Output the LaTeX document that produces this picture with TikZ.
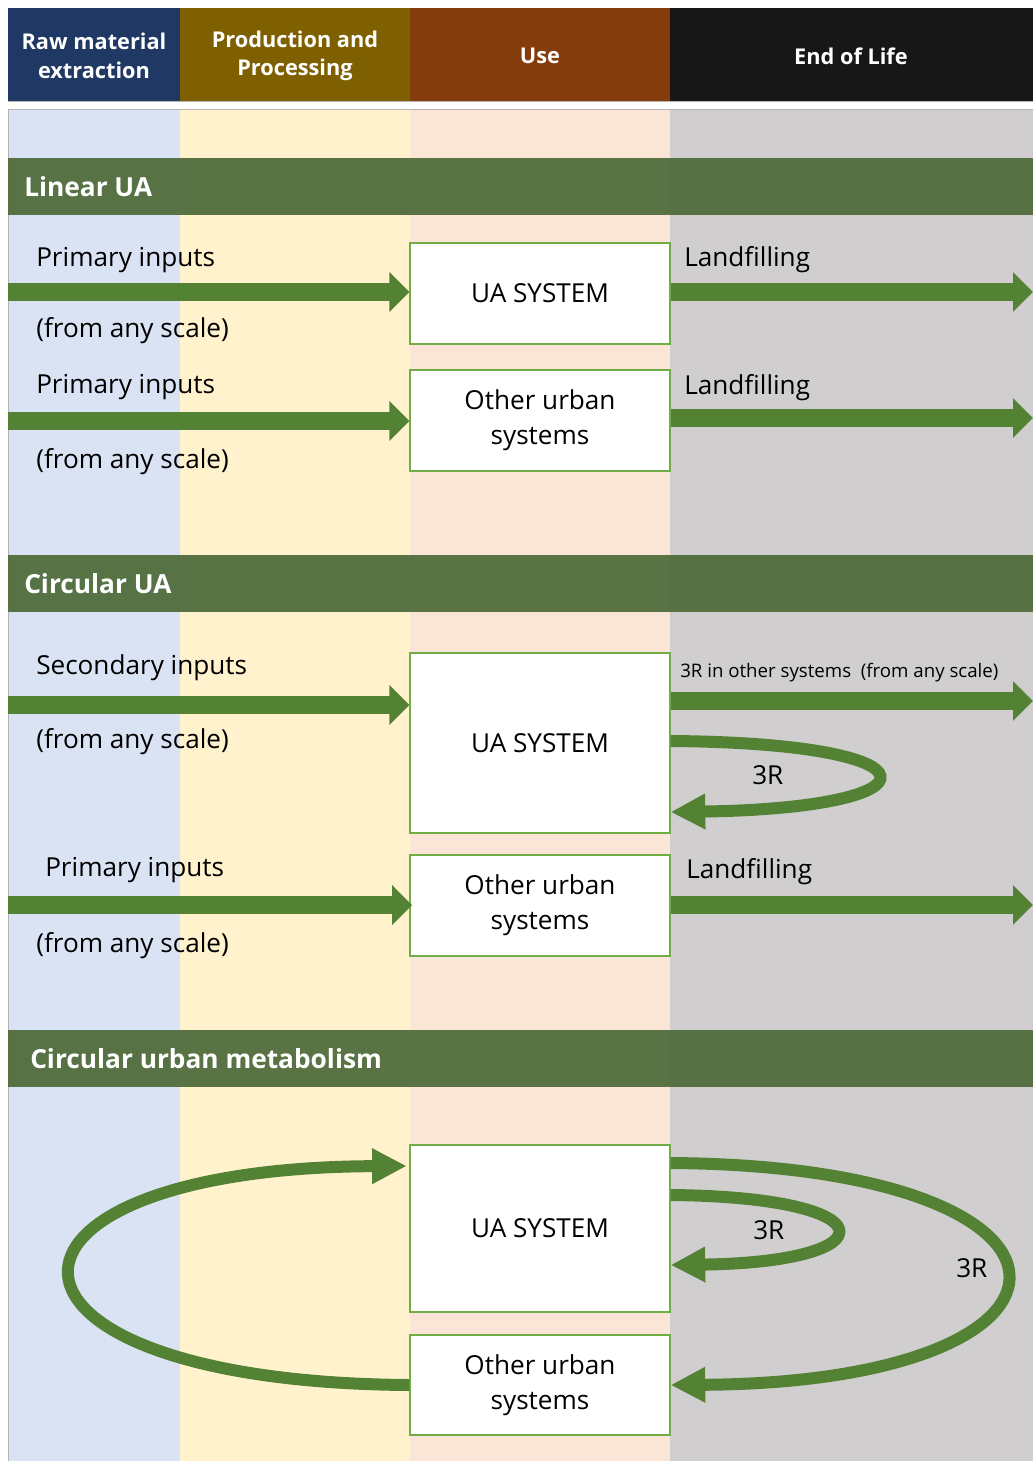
\documentclass[tikz,border=0pt]{standalone}
\usepackage{fontspec}
\setmainfont{Open Sans}
\usetikzlibrary{arrows.meta}

\definecolor{hdrNavy}{HTML}{203864}
\definecolor{hdrOlive}{HTML}{7F6000}
\definecolor{hdrBrown}{HTML}{843C0C}
\definecolor{hdrBlack}{HTML}{171717}
\definecolor{colBlue}{HTML}{DAE3F3}
\definecolor{colYellow}{HTML}{FFF2CC}
\definecolor{colPeach}{HTML}{FBE5D6}
\definecolor{colGrey}{HTML}{D0CECE}
\definecolor{bandGreen}{HTML}{516D3D}
\definecolor{flowGreen}{HTML}{548235}
\definecolor{boxGreen}{HTML}{70AD47}
\definecolor{edgeGrey}{HTML}{B4B4B4}

\newcommand{\bodyfont}{\fontsize{19.6}{26}\selectfont}
\newcommand{\hdrfont}{\fontsize{16.3}{21.5}\selectfont\bfseries}
\newcommand{\bandfont}{\fontsize{19.7}{23}\selectfont\bfseries}

\tikzset{
  hdrtext/.style={text=white, align=center, font=\hdrfont, inner sep=0pt},
  bandtext/.style={text=white, anchor=base west, font=\bandfont, inner sep=0pt},
  label/.style={anchor=base west, font=\bodyfont, inner sep=0pt, text=black},
  smalllabel/.style={anchor=base west, font=\fontsize{14}{16}\selectfont, inner sep=0pt},
  sysbox/.style={draw=boxGreen, line width=0.9pt, fill=white, align=center,
    font=\bodyfont, inner sep=0pt},
  flow/.style={draw=flowGreen, line width=13.5pt,
    -{Triangle[length=15pt, width=29pt]}},
  loop/.style={draw=flowGreen, line width=9pt,
    -{Triangle[length=26pt, width=25pt]}},
}

\begin{document}
\begin{tikzpicture}[x=0.75pt, y=-0.75pt]
\useasboundingbox (0,0) rectangle (1033,1461);
\fill[white] (0,0) rectangle (1033,1461);

% column headers
\fill[hdrNavy]  (8,8)   rectangle (180,101);
\fill[hdrOlive] (180,8) rectangle (410,101);
\fill[hdrBrown] (410,8) rectangle (670,101);
\fill[hdrBlack] (670,8) rectangle (1033,101);
\draw[edgeGrey, line width=0.6pt] (8,101) -- (1033,101);
\node[hdrtext] (h1) at (94,56)  {Raw material\\extraction};
\node[hdrtext] (h2) at (295,56) {Production and\\Processing};
\node[hdrtext] (h3) at (540,56) {Use};
\node[hdrtext] (h4) at (851,56) {End of Life};

% column backgrounds
\fill[colBlue]   (8,109)   rectangle (180,1461);
\fill[colYellow] (180,109) rectangle (410,1461);
\fill[colPeach]  (410,109) rectangle (670,1461);
\fill[colGrey]   (670,109) rectangle (1033,1461);
\draw[edgeGrey, line width=0.6pt] (8,1461) -- (8,109) -- (1033,109);

% section bands
\fill[bandGreen, opacity=0.95] (8,158)  rectangle (1033,215);
\fill[bandGreen, opacity=0.95] (8,555)  rectangle (1033,612);
\fill[bandGreen, opacity=0.95] (8,1030) rectangle (1033,1087);
\node[bandtext] (b1) at (24,196)  {Linear UA};
\node[bandtext] (b2) at (24,593)  {Circular UA};
\node[bandtext] (b3) at (30,1068) {Circular urban metabolism};

% system boxes
\node[sysbox, minimum width=195pt, minimum height=75.75pt] (lsys)  at (540,293.5) {UA SYSTEM};
\node[sysbox, minimum width=195pt, minimum height=75.75pt] (loth)  at (540,420.5) {Other urban\\systems};
\node[sysbox, minimum width=195pt, minimum height=135pt]   (csys)  at (540,743)   {UA SYSTEM};
\node[sysbox, minimum width=195pt, minimum height=75.75pt] (coth)  at (540,905.5) {Other urban\\systems};
\node[sysbox, minimum width=195pt, minimum height=125.25pt] (msys) at (540,1228.5) {UA SYSTEM};
\node[sysbox, minimum width=195pt, minimum height=75pt]   (moth)  at (540,1385)  {Other urban\\systems};

% free ends of the flows
\coordinate (in1)  at (8,292);
\coordinate (in2)  at (8,421);
\coordinate (in3)  at (8,705);
\coordinate (in4)  at (8,905);
\coordinate (out1) at (1033,292);
\coordinate (out2) at (1033,418);
\coordinate (out3) at (1033,701);
\coordinate (out4) at (1033,905);

% linear UA
\draw[flow] (in1) -- (lsys.west |- in1);
\draw[flow] (lsys.east |- out1) -- (out1);
\draw[flow] (in2) -- (loth.west |- in2);
\draw[flow] (loth.east |- out2) -- (out2);
\node[label] (t1) at (36,266)  {Primary inputs};
\node[label] (t2) at (36,337)  {(from any scale)};
\node[label] (t3) at (684,266) {Landfilling};
\node[label] (t4) at (36,393)  {Primary inputs};
\node[label] (t5) at (36,468)  {(from any scale)};
\node[label] (t6) at (684,394) {Landfilling};

% circular UA
\draw[flow] (in3) -- (csys.west |- in3);
\draw[flow] (csys.east |- out3) -- (out3);
\draw[flow] (in4) -- ([xshift=2pt]coth.west |- in4);
\draw[flow] (coth.east |- out4) -- (out4);
\draw[loop] (csys.east |- 0,741) .. controls (945,743) and (945,808) .. (csys.east |- 0,812);
\node[label] (t7)  at (36,674)  {Secondary inputs};
\node[label] (t8)  at (36,748)  {(from any scale)};
\node[smalllabel] (t9) at (680,677) {3R in other systems\ \ (from any scale)};
\node[label] (t10) at (752,784) {3R};
\node[label] (t11) at (45,876)  {Primary inputs};
\node[label] (t12) at (36,952)  {(from any scale)};
\node[label] (t13) at (686,878) {Landfilling};

% circular urban metabolism
\draw[loop] (msys.east |- 0,1195) .. controls (890,1197) and (890,1262) .. (msys.east |- 0,1265);
\draw[loop] (msys.east |- 0,1163) .. controls (1117,1166) and (1117,1382) .. (moth.east |- 0,1385);
\draw[loop] (moth.west |- 0,1385) .. controls (-40,1382) and (-40,1168) .. ([xshift=-2pt]msys.west |- 0,1166);
\node[label] (t14) at (753,1239) {3R};
\node[label] (t15) at (956,1277) {3R};
\end{tikzpicture}
\end{document}
